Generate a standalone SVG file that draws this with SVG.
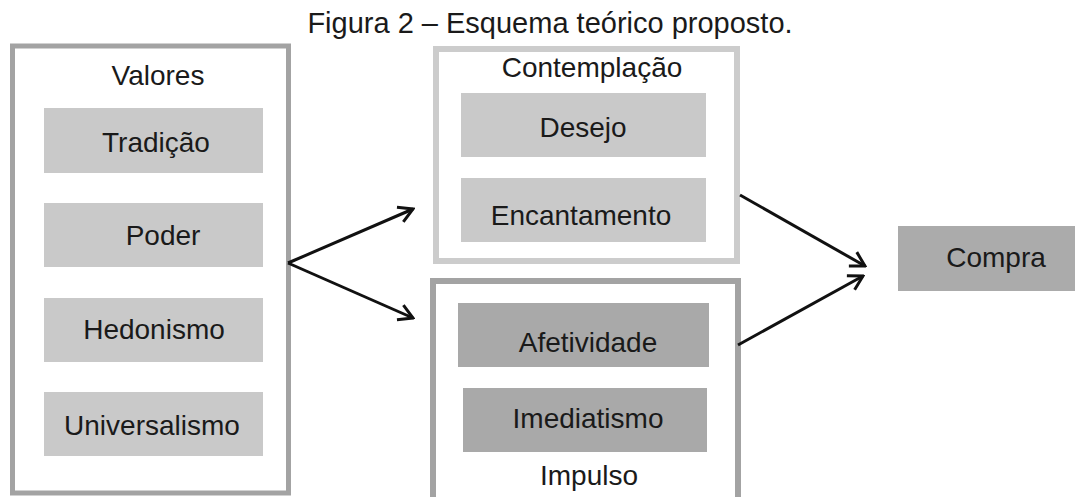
<svg xmlns="http://www.w3.org/2000/svg" width="1075" height="497" viewBox="0 0 1075 497">
<defs>
<style>
text{font-family:"Liberation Sans",Arial,sans-serif;fill:#1a1a1a;text-anchor:middle}
.lbl{font-size:28px}
.light{fill:#c9c9c9}
.dark{fill:#a9a9a9}
.conn{stroke:#111;stroke-width:3;fill:none}
</style>
<marker id="arr" viewBox="0 0 20 20" refX="18" refY="10" markerWidth="20" markerHeight="20" markerUnits="userSpaceOnUse" orient="auto">
<path d="M4 2 L18 10 L4 18" fill="none" stroke="#111" stroke-width="3"/>
</marker>
</defs>
<rect width="1075" height="497" fill="#fff"/>
<text id="title" x="550" y="33" style="font-size:29px">Figura 2 – Esquema teórico proposto.</text>
<g id="valores">
<rect x="12.5" y="46" width="276" height="447" fill="#fff" stroke="#a3a3a3" stroke-width="5"/>
<text class="lbl" x="158" y="85">Valores</text>
</g>
<g id="tradicao"><rect class="light" x="44" y="108" width="219" height="65"/><text class="lbl" x="156" y="152">Tradição</text></g>
<g id="poder"><rect class="light" x="44" y="203" width="219" height="64"/><text class="lbl" x="163" y="245">Poder</text></g>
<g id="hedonismo"><rect class="light" x="44" y="298" width="219" height="64"/><text class="lbl" x="154" y="339">Hedonismo</text></g>
<g id="universalismo"><rect class="light" x="44" y="392" width="219" height="64"/><text class="lbl" x="152" y="435">Universalismo</text></g>
<g id="contemplacao">
<rect x="436" y="49" width="301" height="212" fill="#fff" stroke="#cccccc" stroke-width="6"/>
<text class="lbl" x="592" y="77">Contemplação</text>
</g>
<g id="desejo"><rect class="light" x="461" y="93" width="245" height="64"/><text class="lbl" x="583" y="137">Desejo</text></g>
<g id="encantamento"><rect class="light" x="461" y="178" width="245" height="64"/><text class="lbl" x="581" y="225">Encantamento</text></g>
<g id="impulso">
<rect x="433" y="281" width="305" height="222" fill="#fff" stroke="#a3a3a3" stroke-width="6"/>
<text class="lbl" x="589" y="485">Impulso</text>
</g>
<g id="afetividade"><rect class="dark" x="458" y="303" width="251" height="64"/><text class="lbl" x="588" y="352">Afetividade</text></g>
<g id="imediatismo"><rect class="dark" x="463" y="388" width="244" height="64"/><text class="lbl" x="588" y="428">Imediatismo</text></g>
<g id="compra"><rect fill="#ababab" x="898" y="226" width="177" height="65"/><text class="lbl" x="996" y="267">Compra</text></g>
<g id="connectors">
<line class="conn" x1="288" y1="263" x2="413" y2="209" marker-end="url(#arr)"/>
<line class="conn" x1="288" y1="263" x2="413" y2="318" marker-end="url(#arr)"/>
<line class="conn" x1="740" y1="195" x2="865" y2="266" marker-end="url(#arr)"/>
<line class="conn" x1="738" y1="345" x2="863" y2="276" marker-end="url(#arr)"/>
</g>
</svg>
